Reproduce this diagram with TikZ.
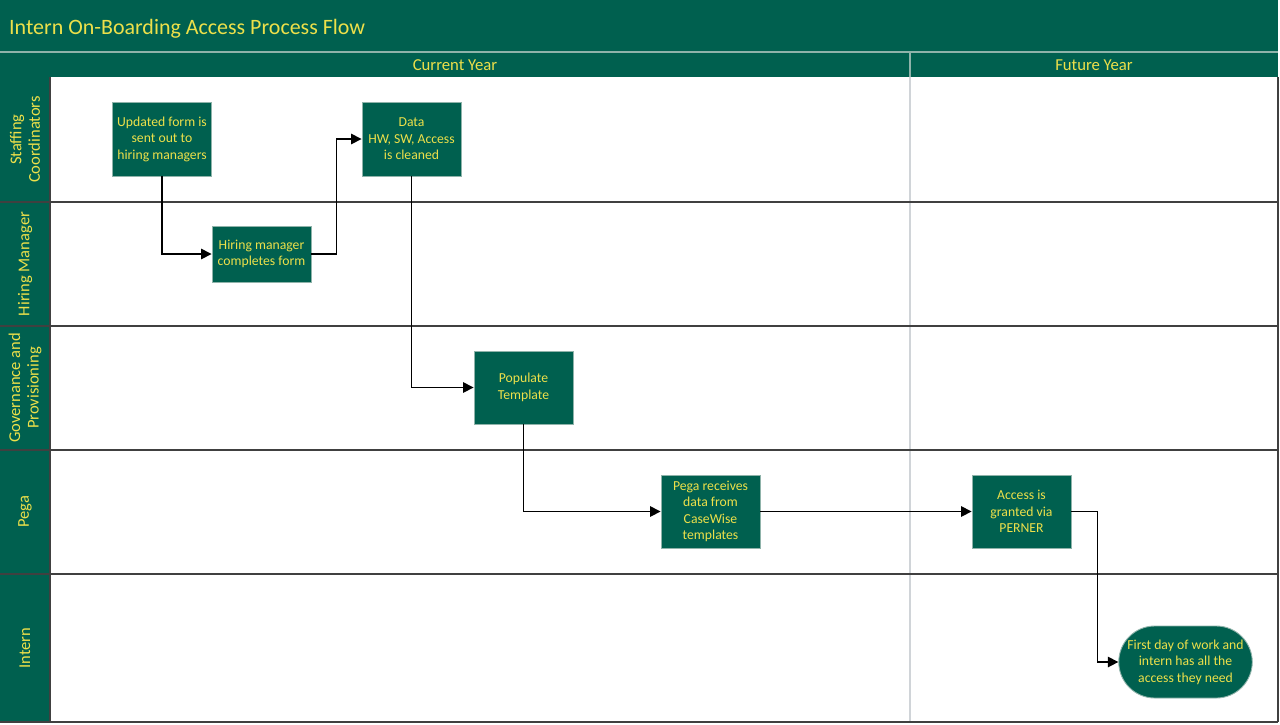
\documentclass[tikz,border=0pt]{standalone}
\usepackage{fontspec}
\setmainfont{Carlito}
\usetikzlibrary{arrows.meta,shapes.misc}
\definecolor{dg}{HTML}{00604F}
\definecolor{yl}{HTML}{EDE04A}
\definecolor{ln}{HTML}{404040}
\definecolor{vl}{HTML}{D0D4D8}
\definecolor{bd}{HTML}{8FB3AA}
\tikzset{
  stepbox/.style={rectangle, fill=dg, draw=bd, line width=0.5pt, text=yl, align=center,
    font=\fontsize{7.8}{9.4}\selectfont, minimum width=99*0.02cm, inner sep=1pt},
  endbox/.style={rounded rectangle, fill=dg, draw=bd, line width=0.5pt, text=yl, align=center,
    font=\fontsize{7.8}{9.4}\selectfont, minimum width=137*0.02cm, minimum height=72*0.02cm, inner sep=1pt},
  lanelbl/.style={text=yl, align=center, rotate=90, font=\fontsize{9.4}{10.6}\selectfont},
  flow/.style={draw=black, line width=0.85pt, -{Triangle[length=6pt,width=6pt]}},
}
\begin{document}
\begin{tikzpicture}[x=0.02cm,y=-0.02cm]
\useasboundingbox (0,0) rectangle (1280,724);
\fill[white] (0,0) rectangle (1280,724);
% title
\fill[dg] (0,0) rectangle (1278,77);
\node[anchor=west, text=yl, font=\fontsize{12.5}{14}\selectfont] (title) at (3,29) {Intern On-Boarding Access Process Flow};
\draw[bd, line width=0.6pt] (0,52) -- (1278,52);
\draw[bd, line width=0.6pt] (910,52) -- (910,77);
\node[text=yl, font=\fontsize{9.5}{11}\selectfont] (cy) at (455,65) {Current Year};
\node[text=yl, font=\fontsize{9.5}{11}\selectfont] (fy) at (1094,65) {Future Year};
% lanes
\fill[dg] (0,77) rectangle (50,722);
\draw[vl, line width=0.6pt] (910,77) -- (910,722);
\foreach \yy in {202,326,450,574} {\draw[ln, line width=0.6pt] (0,\yy) -- (1278,\yy);}
\draw[ln, line width=0.6pt] (50,77) -- (50,722);
\draw[ln, line width=0.6pt] (0,722) -- (1278,722);
\draw[ln, line width=0.6pt] (1278,77) -- (1278,722);
\node[lanelbl] (l1) at (25,139.5) {Staffing\\Coordinators};
\node[lanelbl] (l2) at (25,264) {Hiring Manager};
\node[lanelbl] (l3) at (25,388) {Governance and\\Provisioning};
\node[lanelbl] (l4) at (25,512) {Pega};
\node[lanelbl] (l5) at (25,648) {Intern};
% boxes
\node[stepbox, minimum height=74*0.02cm] (b1) at (162,139) {Updated form is\\sent out to\\hiring managers};
\node[stepbox, minimum height=56*0.02cm] (b2) at (261.5,254) {Hiring manager\\completes form};
\node[stepbox, minimum height=74*0.02cm] (b3) at (411.5,139) {Data\\HW, SW, Access\\is cleaned};
\node[stepbox, minimum height=73*0.02cm] (b4) at (523.5,387.5) {Populate\\Template};
\node[stepbox, minimum height=73*0.02cm] (b5) at (710.5,511.5) {Pega receives\\data from\\CaseWise\\templates};
\node[stepbox, minimum height=73*0.02cm] (b6) at (1021.5,511.5) {Access is\\granted via\\PERNER};
\node[endbox] (b7) at (1185.5,662) {First day of work and\\intern has all the\\access they need};
% connectors
\draw[flow] (b1.south) |- (b2.west);
\draw[flow] (b2.east) -- ++(25,0) |- (b3.west);
\draw[flow] (b3.south) |- (b4.west);
\draw[flow] (b4.south) |- (b5.west);
\draw[flow] (b5.east) -- (b6.west);
\draw[flow] (b6.east) -- ++(26,0) |- (b7.west);
\end{tikzpicture}
\end{document}
